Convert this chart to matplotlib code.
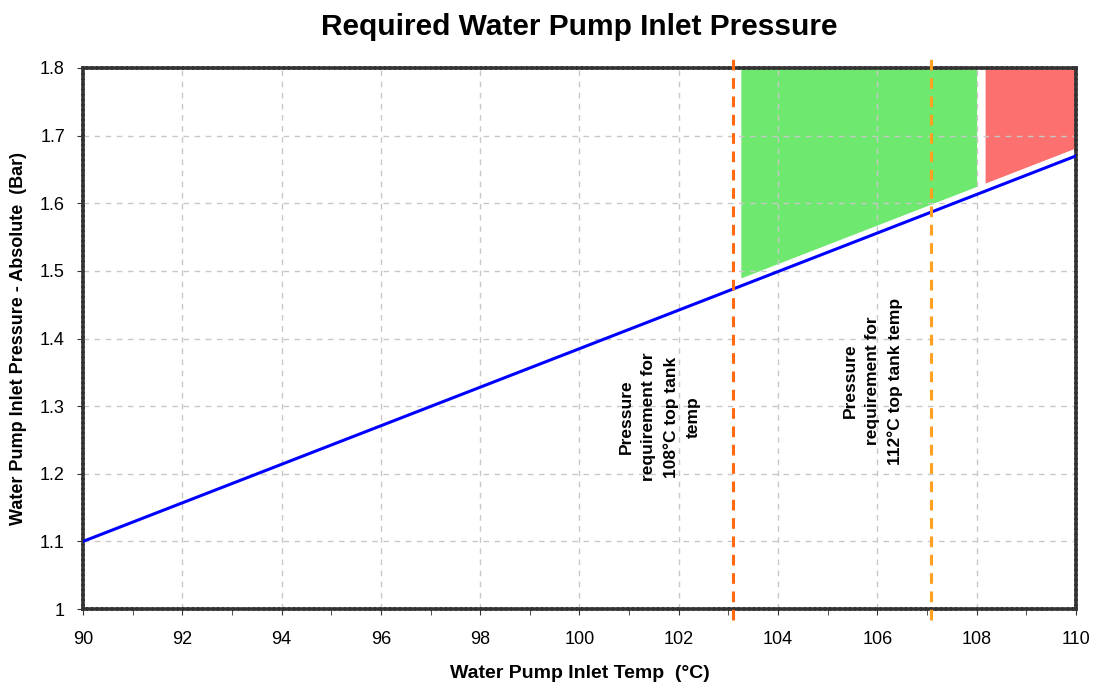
import matplotlib.pyplot as plt
import numpy as np

plt.rcParams['font.family'] = ['Liberation Sans', 'DejaVu Sans']

# inlet temp (C) vs required pressure (bar abs)
temp = [90, 110]
pressure = [1.10, 1.67]

# vertical requirement lines
req_temps = [103.09, 107.08]
req_colors = ['#ff6a10', '#ffa020']
req_labels = ['Pressure\nrequirement for\n108°C top tank\ntemp',
              'Pressure\nrequirement for\n112°C top tank temp']
label_pos = [(101.62, 1.284), (105.91, 1.337)]

# shaded zones (x-range), filled from the line up to the top
zones = [(103.25, 108.0, '#6ee86e'), (108.17, 110.0, '#fc7070')]

fig = plt.figure(figsize=(10.94, 6.82), dpi=100)
ax = fig.add_axes([0.0759, 0.107, 0.9076, 0.7933])

for x0, x1, c in zones:
    xs = np.linspace(x0, x1, 50)
    ys = np.interp(xs, temp, pressure) + 0.012
    ax.fill_between(xs, ys, 1.8, color=c, lw=0, zorder=1)

ax.plot(temp, pressure, color='#0000ff', lw=2.2, zorder=3)

for t, c in zip(req_temps, req_colors):
    ax.axvline(t, color=c, lw=2.2, ls=(0, (3.5, 2.5)), zorder=4, clip_on=False,
               ymin=-0.02, ymax=1.03)

for (x, y), s in zip(label_pos, req_labels):
    ax.text(x, y, s, rotation=90, ha='center', va='center', fontsize=12.5,
            fontweight='bold', linespacing=1.6)

ax.set_xlim(90, 110)
ax.set_ylim(1.0, 1.8)
ax.set_xticks(np.arange(90, 111, 2))
ax.set_xticks(np.arange(91, 110, 2), minor=True)
ax.set_yticks(np.arange(1.0, 1.81, 0.1))
ax.set_yticklabels(['1', '1.1', '1.2', '1.3', '1.4', '1.5', '1.6', '1.7', '1.8'])
ax.tick_params(labelsize=13, length=4, color='#333333')
ax.tick_params(axis='x', pad=12)
ax.tick_params(axis='y', pad=9)
ax.tick_params(which='minor', length=4, color='#333333')
ax.grid(True, ls=(0, (4, 4)), color='#c8c8c8', lw=1)

for sp in ax.spines.values():
    sp.set_linestyle((0, (0.7, 0.7)))
    sp.set_linewidth(2.6)
    sp.set_color('#333333')

ax.set_title('Required Water Pump Inlet Pressure', fontsize=21.5,
             fontweight='bold', pad=24)
ax.set_xlabel('Water Pump Inlet Temp  (°C)', fontsize=14, fontweight='bold',
              labelpad=12)
ax.set_ylabel('Water Pump Inlet Pressure - Absolute  (Bar)', fontsize=13,
              fontweight='bold', labelpad=9)

fig.savefig('out.png', dpi=100)
